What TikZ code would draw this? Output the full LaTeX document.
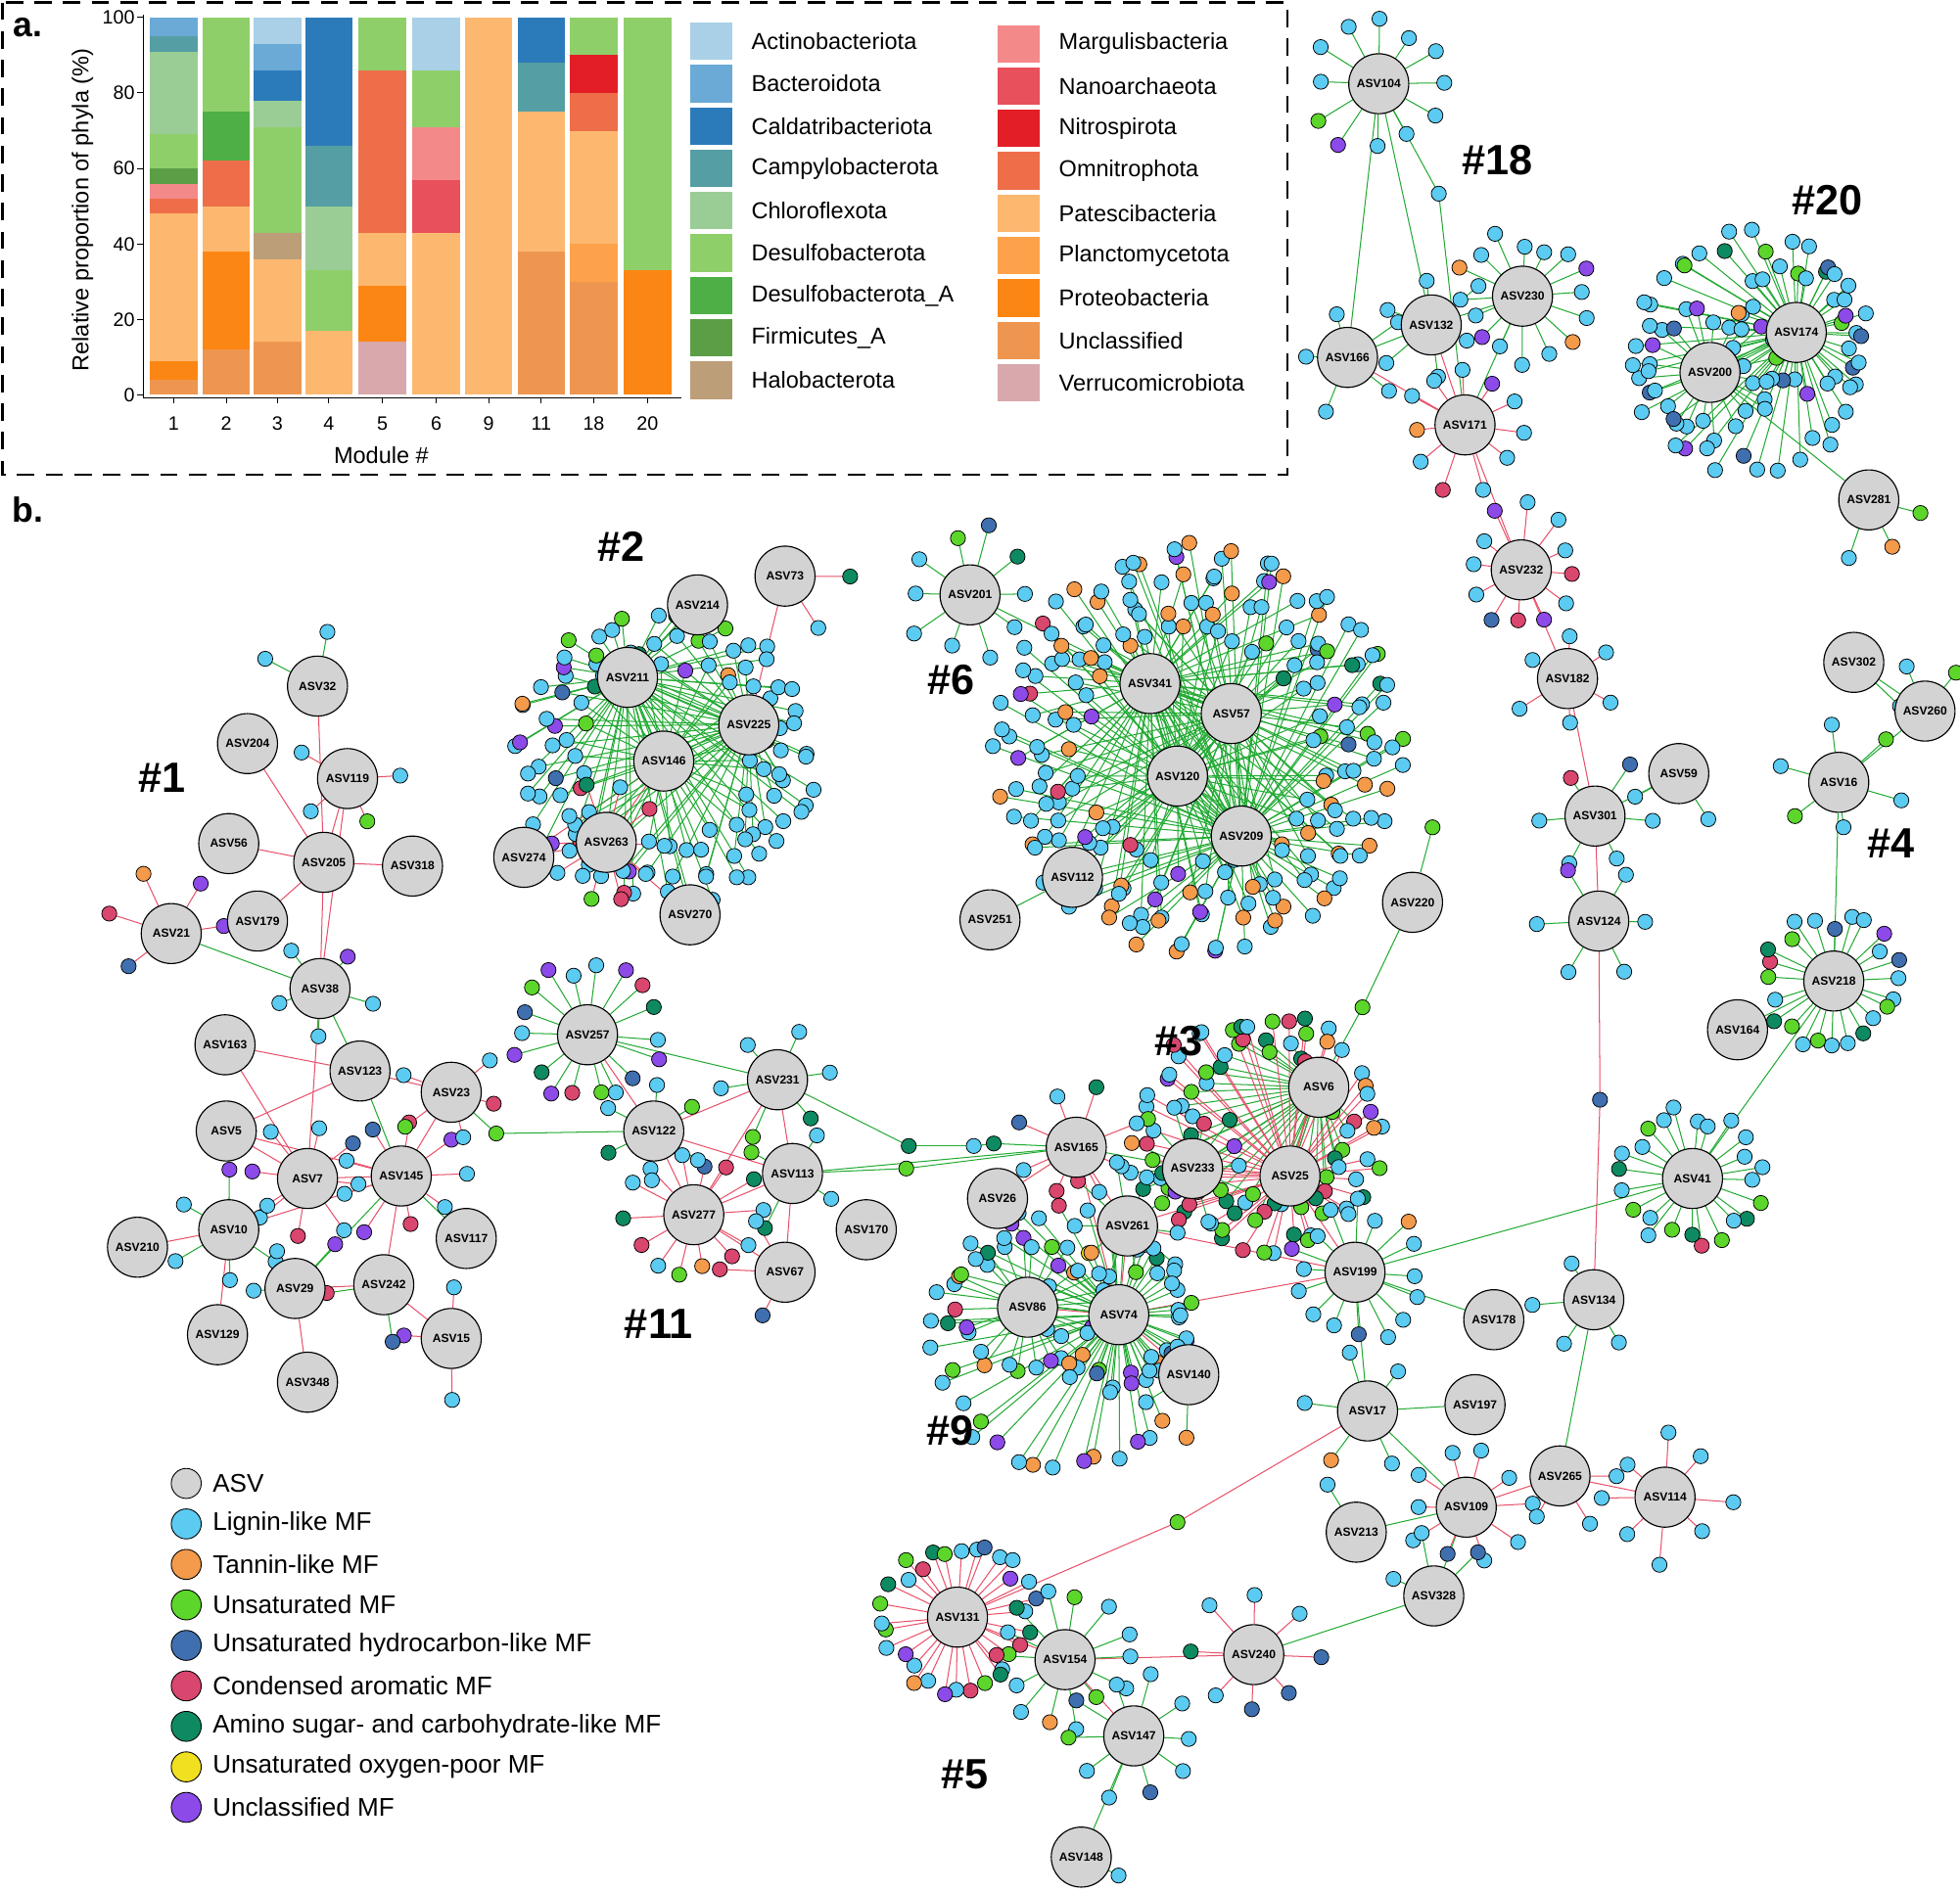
\documentclass[tikz,border=0pt]{standalone}
\usepackage{fontspec}
\setmainfont{Liberation Sans}
\pgfdeclarelayer{bg}\pgfdeclarelayer{fg}
\pgfsetlayers{bg,main,fg}
\definecolor{ACT}{HTML}{A9D0E6}\definecolor{BAC}{HTML}{6BAAD6}\definecolor{CAL}{HTML}{2B7BBA}
\definecolor{CAM}{HTML}{559EA3}\definecolor{CHL}{HTML}{9ACD95}\definecolor{DES}{HTML}{8FCF6A}
\definecolor{DESA}{HTML}{4DAF45}\definecolor{FIR}{HTML}{5B9E46}\definecolor{HAL}{HTML}{BC9E78}
\definecolor{MAR}{HTML}{F4898A}\definecolor{NAN}{HTML}{E8505B}\definecolor{NIT}{HTML}{E31E26}
\definecolor{OMN}{HTML}{EE6E4A}\definecolor{PAT}{HTML}{FDB870}\definecolor{PLA}{HTML}{FDA24A}
\definecolor{PRO}{HTML}{FC8613}\definecolor{UNC}{HTML}{EE9650}\definecolor{VER}{HTML}{D8A8AC}
\definecolor{L}{HTML}{5CCBF2}\definecolor{T}{HTML}{F39A4B}\definecolor{U}{HTML}{5CD62B}
\definecolor{H}{HTML}{3F6FAF}\definecolor{C}{HTML}{D9466E}\definecolor{A}{HTML}{0E8A62}
\definecolor{Y}{HTML}{F0E020}\definecolor{P}{HTML}{8C4AE8}\definecolor{HUBF}{HTML}{D3D3D3}
\definecolor{GEDGE}{HTML}{22AA33}\definecolor{REDGE}{HTML}{E8506A}
\tikzset{hub/.style={circle,draw=black,fill=HUBF,line width=0.9pt,minimum size=48bp,inner sep=0pt,font=\fontsize{9.5}{11}\selectfont\bfseries},
 sat/.style={circle,draw=black,line width=0.6pt,minimum size=12bp,inner sep=0pt},
 gE/.style={GEDGE,line width=0.8pt}, rE/.style={REDGE,line width=0.8pt},
 lgtxt/.style={anchor=west,font=\fontsize{18.5}{21}\selectfont,inner sep=0pt},
 modlab/.style={font=\fontsize{34}{36}\selectfont\bfseries}}
% center, from, id, radius, n, start, edge, list
\newcommand\ring[8]{%
 \begin{pgfonlayer}{bg}%
 \foreach \cc [count=\i] in #8{%
  \pgfmathsetmacro\ang{#6+\i/#5*360+5*rand}%
  \pgfmathsetmacro\rr{#4+9*rand}%
  \coordinate (#2#3-\i) at ([shift={(\ang:\rr)}]#1);
  \draw[#7] (#2) -- (#2#3-\i);
 }%
 \end{pgfonlayer}%
 \foreach \cc [count=\i] in #8{\node[sat,fill=\cc] (#2#3-n\i) at (#2#3-\i) {};}%
 }
\newcommand\stackbar[2]{\foreach \col/\a/\b in {#2}{\fill[\col] ({#1-19},{316-3.02*\a}) rectangle ({#1+19},{316-3.02*\b});}}
\def\gL{L,L,L,L,L,L,L,L}
\def\gLT{L,T,L,L,T,L,L,L}
\def\gTL{T,L,L,T,L,P,L,T}
\def\gLP{L,L,P,L,L,C,L,L}
\def\gLU{L,U,L,A,L,L,U,L}
\def\gMix{U,A,L,U,C,A,U,L}
\def\gPT{P,L,T,L,P,L,U,L}
\def\gH{L,H,L,L,P,L,H,L}
\def\gAC{A,C,U,L,A,U,C,L}
\edef\sixa{\gLT,\gLP,\gTL,\gLT,\gLU}
\edef\sixb{\gLT,\gTL,\gLP,\gLT,\gLT,\gH}
\edef\sixc{\gLT,\gTL,\gLT,\gLP,\gLT,\gTL,\gLU}
\edef\sixd{\gLT,\gTL,\gLT,\gLT,\gLP,\gTL,\gLT,\gLU}
\edef\twa{\gH,\gL,\gLU}
\edef\twb{\gL,\gH,\gPT}
\edef\twc{\gL,\gH,\gL,\gLU,\gH}
\edef\fra{\gLU,\gMix,\gH}
\edef\frb{\gMix,\gLU,\gL}
\edef\twoa{\gL,\gLP,\gLU,\gPT}
\edef\twob{\gL,\gLP,\gH,\gLU,\gL}
\edef\twoc{\gL,\gLP,\gL,\gPT,\gLU,\gL}
\edef\thra{\gMix,\gAC,\gLU,\gMix,\gAC}
\edef\thrb{\gLU,\gMix,\gAC,\gLP,\gMix,\gTL}
\edef\ninea{\gPT,\gTL,\gLU,\gH}
\edef\nineb{\gTL,\gPT,\gLU,\gLP,\gL}
\edef\fivea{\gAC,\gPT,\gMix,\gH}
\begin{document}
\begin{tikzpicture}[x=1bp,y=-1bp]
\pgfmathsetseed{7}
\useasboundingbox (0,0) rectangle (1568,1514);
\begin{pgfonlayer}{bg}\fill[white] (0,0) rectangle (1568,1514);\end{pgfonlayer}
% ---------- panel a ----------
\draw[line width=2pt,dash pattern=on 14pt off 9pt] (2,2) rectangle (1030,380);
\node[font=\fontsize{28}{30}\selectfont\bfseries] (la) at (22,22) {a.};
\stackbar{139}{UNC/0/4,PRO/4/9,PAT/9/48,OMN/48/52,MAR/52/56,FIR/56/60,DES/60/69,CHL/69/91,CAM/91/95,BAC/95/100}
\stackbar{181}{UNC/0/12,PRO/12/38,PAT/38/50,OMN/50/62,DESA/62/75,DES/75/100}
\stackbar{222}{UNC/0/14,PAT/14/36,HAL/36/43,DES/43/71,CHL/71/78,CAL/78/86,BAC/86/93,ACT/93/100}
\stackbar{263}{PAT/0/17,DES/17/33,CHL/33/50,CAM/50/66,CAL/66/100}
\stackbar{306}{VER/0/14,PRO/14/29,PAT/29/43,OMN/43/86,DES/86/100}
\stackbar{349}{PAT/0/43,NAN/43/57,MAR/57/71,DES/71/86,ACT/86/100}
\stackbar{391}{PAT/0/100}
\stackbar{433}{UNC/0/38,PAT/38/75,CAM/75/88,CAL/88/100}
\stackbar{475}{UNC/0/30,PLA/30/40,PAT/40/70,OMN/70/80,NIT/80/90,DES/90/100}
\stackbar{518}{PRO/0/33,DES/33/100}
\draw[line width=0.8pt] (115,12) -- (115,318) -- (545,318);
\foreach \v in {0,20,...,100}{\draw[line width=0.8pt] (110,{316-3.02*\v}) -- (115,{316-3.02*\v});
 \node[anchor=east,font=\fontsize{15.5}{17}\selectfont,inner sep=1pt] (yt\v) at (109,{316-3.02*\v}) {\v};}
\foreach \m/\x in {1/139,2/181,3/222,4/263,5/306,6/349,9/391,11/433,18/475,20/518}{
 \draw[line width=0.8pt] (\x,318) -- (\x,323);
 \node[font=\fontsize{15.5}{17}\selectfont] (xt\m) at (\x,339) {\m};}
\node[font=\fontsize{18.5}{21}\selectfont] (xl) at (305,364) {Module \#};
\node[rotate=90,font=\fontsize{18.5}{21}\selectfont] (yl) at (66,168) {Relative proportion of phyla (\%)};
\foreach \col/\t [count=\k] in {ACT/Actinobacteriota,BAC/Bacteroidota,CAL/Caldatribacteriota,CAM/Campylobacterota,CHL/Chloroflexota,DES/Desulfobacterota,DESA/Desulfobacterota\_A,FIR/Firmicutes\_A,HAL/Halobacterota}{
 \fill[\col] (552,{33+(\k-1)*33.9-15}) rectangle (586,{33+(\k-1)*33.9+15});
 \node[lgtxt] (la\k) at (601,{33+(\k-1)*33.9}) {\t};}
\foreach \col/\t [count=\k] in {MAR/Margulisbacteria,NAN/Nanoarchaeota,NIT/Nitrospirota,OMN/Omnitrophota,PAT/Patescibacteria,PLA/Planctomycetota,PRO/Proteobacteria,UNC/Unclassified,VER/Verrucomicrobiota}{
 \fill[\col] (798,{35+(\k-1)*33.9-15}) rectangle (832,{35+(\k-1)*33.9+15});
 \node[lgtxt] (lb\k) at (847,{35+(\k-1)*33.9}) {\t};}
% ---------- panel b ----------
\node[font=\fontsize{28}{30}\selectfont\bfseries] (lbb) at (22,408) {b.};
\begin{pgfonlayer}{fg}
\foreach \t/\x/\y in {18/1198/128,20/1462/160,2/497/437,6/761/544,1/130/622,4/1513/675,3/943/833,11/527/1059,9/760/1145,5/772/1420}
 \node[modlab] (mod\t) at (\x,\y) {\#\t};
\foreach \n/\x/\y in {ASV104/1103/67,ASV166/1078/286,ASV132/1145/260,ASV230/1218/237,ASV171/1172/340,ASV232/1217/456,ASV182/1254/543,ASV59/1343/619,ASV301/1276/653,ASV124/1279/737,ASV174/1437/266,ASV200/1368/298,ASV281/1495/400,ASV302/1483/530,ASV260/1540/569,ASV16/1471/626,ASV218/1467/785,ASV164/1390/824,ASV41/1354/943,ASV220/1130/722,ASV201/776/476,ASV341/920/547,ASV57/985/571,ASV120/942/621,ASV209/993/669,ASV112/858/702,ASV251/792/736,ASV73/628/461,ASV214/558/484,ASV211/502/542,ASV225/599/580,ASV146/531/609,ASV274/419/686,ASV263/485/674,ASV270/552/732,ASV32/254/549,ASV204/198/595,ASV119/278/623,ASV56/183/675,ASV205/259/690,ASV318/330/693,ASV179/206/737,ASV21/137/747,ASV38/256/791,ASV163/180/836,ASV123/288/857,ASV23/361/874,ASV5/181/905,ASV7/246/943,ASV145/321/941,ASV10/183/984,ASV210/110/998,ASV117/373/991,ASV29/236/1031,ASV242/307/1028,ASV129/174/1068,ASV15/361/1071,ASV348/246/1106,ASV257/470/828,ASV231/622/864,ASV122/523/905,ASV113/634/939,ASV277/555/972,ASV170/693/984,ASV67/628/1018,ASV165/861/918,ASV233/954/935,ASV6/1055/870,ASV25/1032/941,ASV26/798/959,ASV261/902/981,ASV199/1084/1018,ASV86/822/1046,ASV74/895/1052,ASV140/951/1100,ASV178/1195/1056,ASV134/1275/1040,ASV17/1094/1129,ASV197/1180/1124,ASV265/1248/1181,ASV114/1332/1198,ASV109/1173/1206,ASV213/1085/1226,ASV328/1147/1277,ASV240/1003/1324,ASV131/766/1294,ASV154/852/1328,ASV147/907/1389,ASV148/865/1486}
 \node[hub] (\n) at (\x,\y) {\n};
\end{pgfonlayer}
\coordinate (c6) at (958,600);
\coordinate (c2) at (532,606);
\coordinate (c20) at (1400,282);
\coordinate (c3) at (1010,905);
\coordinate (c9) at (850,1070);
% mid nodes on long edges
\node[sat,fill=H] (m1) at (1280,880) {};
\node[sat,fill=U] (m2) at (942,1218) {};
\node[sat,fill=U] (m3) at (397,907) {};
\node[sat,fill=L] (m4) at (1151,155) {};
\node[sat,fill=A] (m5) at (727,917) {};
\node[sat,fill=A] (m6) at (795,915) {};
\node[sat,fill=L] (m7) at (779,917) {};
\node[sat,fill=U] (m8) at (725,935) {};
\node[sat,fill=U] (m9) at (1090,806) {};
\node[sat,fill=U] (m10) at (1146,662) {};
\begin{pgfonlayer}{bg}
\foreach \a/\b in {ASV104/m4,m4/ASV171,ASV104/ASV132,ASV104/ASV166,ASV132/ASV230,ASV230/ASV171,ASV166/ASV132,ASV301/ASV59,ASV174/ASV200,ASV200/ASV281,ASV302/ASV260,ASV16/ASV260,ASV16/ASV218,ASV218/ASV164,ASV218/ASV41,ASV41/ASV199,ASV201/ASV341,ASV341/ASV57,ASV57/ASV120,ASV120/ASV209,ASV112/ASV120,ASV251/ASV112,ASV341/ASV120,ASV220/m9,m9/ASV6,ASV220/m10,ASV214/ASV211,ASV211/ASV146,ASV225/ASV146,ASV21/ASV38,ASV38/ASV123,ASV123/ASV145,ASV23/m3,m3/ASV122,ASV257/ASV231,ASV231/m5,m5/m7,m7/m6,m6/ASV165,ASV113/m8,m8/ASV165,ASV113/ASV165,ASV6/ASV233,ASV199/ASV17,ASV17/ASV109,ASV134/ASV265,ASV328/ASV240,ASV147/ASV148,ASV213/ASV109,ASV17/ASV197,ASV178/ASV199,ASV109/ASV328,ASV233/ASV165,ASV29/ASV145,ASV117/ASV145}
 \draw[gE] (\a) -- (\b);
\foreach \a/\b in {ASV166/ASV171,ASV132/ASV171,ASV171/ASV232,ASV232/ASV182,ASV182/ASV301,ASV301/ASV124,ASV124/m1,m1/ASV134,ASV73/ASV225,ASV146/ASV263,ASV274/ASV263,ASV263/ASV270,ASV274/ASV146,ASV204/ASV205,ASV119/ASV205,ASV56/ASV205,ASV205/ASV318,ASV179/ASV205,ASV38/ASV205,ASV38/ASV119,ASV32/ASV205,ASV163/ASV7,ASV5/ASV145,ASV5/ASV7,ASV7/ASV145,ASV10/ASV7,ASV210/ASV10,ASV10/ASV145,ASV242/ASV145,ASV29/ASV242,ASV15/ASV242,ASV348/ASV29,ASV129/ASV10,ASV123/ASV23,ASV23/ASV145,ASV163/ASV123,ASV38/ASV7,ASV5/ASV123,ASV257/ASV122,ASV122/ASV231,ASV122/ASV277,ASV122/ASV113,ASV277/ASV113,ASV113/ASV231,ASV67/ASV113,ASV277/ASV67,ASV277/ASV231,ASV233/ASV25,ASV6/ASV25,ASV25/ASV199,ASV165/ASV261,ASV261/ASV74,ASV74/ASV86,ASV165/ASV74,ASV261/ASV199,ASV26/ASV165,ASV74/ASV140,ASV25/ASV261,ASV17/m2,m2/ASV131,ASV109/ASV265,ASV265/ASV114,ASV240/ASV154,ASV154/ASV131,ASV154/ASV147,ASV74/ASV199}
 \draw[rE] (\a) -- (\b);
\end{pgfonlayer}
% satellites
\ring{ASV104}{ASV104}{a}{50}{12}{0}{gE}{{L,L,L,P,U,L,L,L,L,L,L,L}}
\ring{ASV230}{ASV230}{a}{47}{16}{0}{gE}{{L,T,L,L,L,P,L,L,T,L,L,L,L,L,P,L}}
\ring{ASV132}{ASV132}{a}{40}{6}{20}{gE}{{L,L,L,L,L,L}}
\ring{ASV166}{ASV166}{a}{42}{5}{40}{gE}{{L,L,L,L,L}}
\ring{ASV171}{ASV171}{a}{46}{11}{10}{rE}{{L,L,C,L,T,L,L,L,P,L,L}}
\ring{ASV232}{ASV232}{a}{46}{12}{5}{rE}{{L,P,C,H,L,L,L,P,L,L,L,C}}
\ring{ASV182}{ASV182}{a}{40}{6}{30}{rE}{{L,L,L,L,L,L}}
\ring{ASV301}{ASV301}{a}{42}{6}{60}{gE}{{L,L,C,H,L,L}}
\ring{ASV124}{ASV124}{a}{42}{6}{0}{gE}{{L,L,L,P,L,L}}
\ring{ASV59}{ASV59}{a}{40}{4}{-30}{gE}{{L,L}}
\ring{ASV174}{ASV174}{a}{46}{24}{0}{gE}{\twa}
\ring{ASV200}{ASV200}{a}{48}{24}{7}{gE}{\twb}
\ring{c20}{ASV174}{b}{90}{40}{3}{gE}{\twc}
\ring{ASV281}{ASV281}{a}{45}{8}{-30}{gE}{{U,T,L}}
\ring{ASV16}{ASV16}{a}{45}{6}{20}{gE}{{L,U,L,L,U,L}}
\ring{ASV302}{ASV302}{a}{42}{6}{-20}{gE}{{L}}
\ring{ASV260}{ASV260}{a}{42}{6}{190}{gE}{{L,U}}
\ring{ASV218}{ASV218}{a}{50}{24}{0}{gE}{\fra}
\ring{ASV41}{ASV41}{a}{52}{24}{4}{gE}{\frb}
\ring{c6}{ASV120}{a}{97}{40}{0}{gE}{\sixa}
\ring{c6}{ASV57}{b}{117}{48}{3}{gE}{\sixb}
\ring{c6}{ASV341}{c}{137}{56}{1}{gE}{\sixc}
\ring{c6}{ASV209}{d}{157}{64}{2}{gE}{\sixd}
\ring{ASV201}{ASV201}{a}{52}{10}{110}{gE}{{L,L,L,U,H,A,L,L,L,L}}
\ring{c2}{ASV146}{a}{74}{32}{0}{gE}{\twoa}
\ring{c2}{ASV225}{b}{94}{40}{4}{gE}{\twob}
\ring{c2}{ASV211}{c}{114}{48}{2}{gE}{\twoc}
\ring{ASV263}{ASV263}{a}{42}{10}{0}{rE}{{L,C,U,L,P,L,A,L,C,L}}
\ring{ASV73}{ASV73}{a}{45}{6}{-60}{rE}{{A,L}}
\ring{ASV21}{ASV21}{a}{44}{7}{90}{rE}{{H,C,T,P,P}}
\ring{ASV38}{ASV38}{a}{42}{5}{20}{gE}{{L,L,L,P,L}}
\ring{ASV7}{ASV7}{a}{45}{8}{10}{rE}{{L,C,L,P,L,L,H,L}}
\ring{ASV145}{ASV145}{a}{46}{9}{0}{rE}{{L,C,P,L,L,H,C,P,L}}
\ring{ASV10}{ASV10}{a}{42}{6}{30}{gE}{{L,L,L,P,L,L}}
\ring{ASV23}{ASV23}{a}{42}{6}{-100}{rE}{{L,C,L,U,L}}
\ring{ASV119}{ASV119}{a}{42}{5}{-80}{rE}{{L,U,L,L}}
\ring{ASV32}{ASV32}{a}{42}{5}{140}{gE}{{L,L}}
\ring{ASV15}{ASV15}{a}{42}{4}{0}{rE}{{L,P,L}}
\ring{ASV242}{ASV242}{a}{42}{4}{-10}{gE}{{H,C}}
\ring{ASV29}{ASV29}{a}{42}{5}{100}{gE}{{L,L,P}}
\ring{ASV257}{ASV257}{a}{55}{18}{0}{gE}{{P,H,L,U,C,P,A,P,L,H,U,P,L,L,P,C,A,L}}
\ring{ASV277}{ASV277}{a}{48}{14}{0}{rE}{{L,C,T,U,L,C,A,L,L,L,H,C,A,L}}
\ring{ASV122}{ASV122}{a}{45}{6}{30}{gE}{{L,A,L,L,U,L}}
\ring{ASV231}{ASV231}{a}{45}{6}{-70}{gE}{{L,A,U,L,L,L}}
\ring{ASV113}{ASV113}{a}{42}{4}{30}{gE}{{A,U,L,L}}
\ring{ASV67}{ASV67}{a}{45}{6}{60}{rE}{{H,C,L}}
\ring{c3}{ASV6}{a}{66}{40}{0}{gE}{\thra}
\ring{c3}{ASV25}{b}{90}{48}{3}{rE}{\thrb}
\ring{ASV233}{ASV233}{a}{45}{14}{0}{gE}{{U,A,L,C,U,A,L,T,U,L,C,A,P,L}}
\ring{ASV165}{ASV165}{a}{45}{8}{20}{rE}{{L,C,L,H,L,A,L,L}}
\ring{ASV261}{ASV261}{a}{45}{10}{5}{gE}{{L,U,L,Y,L,C,L,L,P,L}}
\ring{ASV199}{ASV199}{a}{50}{16}{0}{gE}{{L,L,L,H,L,L,L,L,P,L,L,L,L,T,L,L}}
\ring{ASV86}{ASV86}{a}{55}{26}{0}{gE}{{P,L,T,L,P,L,U,L,T,L,L,P,C,L,T,L,A,L,P,L,U,L,T,L,L,P}}
\ring{ASV74}{ASV74}{a}{55}{24}{5}{gE}{\ninea}
\ring{c9}{ASV74}{b}{100}{40}{2}{gE}{\nineb}
\ring{ASV140}{ASV140}{a}{42}{6}{30}{gE}{{T,L,L}}
\ring{ASV17}{ASV17}{a}{42}{6}{10}{gE}{{L,T,L,L,L}}
\ring{ASV109}{ASV109}{a}{46}{10}{0}{rE}{{L,L,H,L,L,L,L,L,L,L}}
\ring{ASV114}{ASV114}{a}{46}{8}{0}{rE}{{L,L,L,L,L,L,L,L}}
\ring{ASV265}{ASV265}{a}{44}{6}{-60}{rE}{{L,L,L}}
\ring{ASV134}{ASV134}{a}{42}{6}{0}{gE}{{L,L,L,L}}
\ring{ASV213}{ASV213}{a}{40}{6}{180}{gE}{{L}}
\ring{ASV328}{ASV328}{a}{44}{6}{140}{gE}{{L,L,H}}
\ring{ASV240}{ASV240}{a}{46}{8}{0}{rE}{{H,H,L,A,L,L,L,H}}
\ring{ASV131}{ASV131}{a}{56}{32}{0}{rE}{\fivea}
\ring{ASV154}{ASV154}{a}{48}{14}{0}{gE}{{L,U,L,T,L,L,C,L,A,L,U,L,L,L}}
\ring{ASV147}{ASV147}{a}{46}{10}{0}{gE}{{L,H,L,L,U,H,L,L,L,L}}
\ring{ASV148}{ASV148}{a}{42}{6}{-30}{gE}{{L}}
% legend b
\foreach \col/\t [count=\k] in {HUBF/ASV,L/Lignin-like MF,T/Tannin-like MF,U/Unsaturated MF,H/Unsaturated hydrocarbon-like MF,C/Condensed aromatic MF,A/Amino sugar- and carbohydrate-like MF,Y/Unsaturated oxygen-poor MF,P/Unclassified MF}{
 \node[circle,draw=black,line width=0.7pt,fill=\col,minimum size=24bp,inner sep=0pt] (lgc\k) at (149,{1187+(\k-1)*32.4}) {};
 \node[anchor=west,font=\fontsize{20.5}{23}\selectfont,inner sep=0pt] (lgt\k) at (170,{1187+(\k-1)*32.4}) {\t};}
\end{tikzpicture}
\end{document}
